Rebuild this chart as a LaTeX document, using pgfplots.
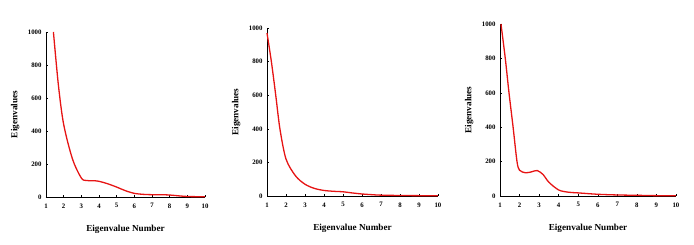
\documentclass[border=0pt]{standalone}
\usepackage{pgfplots}
\pgfplotsset{compat=1.18}
\usepackage{fontspec}
\setmainfont{Liberation Serif}
\definecolor{cred}{RGB}{230,20,20}
\pgfplotsset{
  eig/.style={
    scale only axis,
    anchor=south west,
    axis lines=left,
    axis line style={-,black,line width=0.6pt},
    xmin=1,xmax=10,ymin=0,ymax=1000,
    xtick={1,...,10},
    ytick={0,200,400,600,800,1000},
    tick align=inside,
    major tick length=2pt,
    tick style={black,line width=0.5pt},
    ticklabel style={font=\bfseries\fontsize{6.8}{8}\selectfont},
    xticklabel style={yshift=-3pt},
    yticklabel style={xshift=-1pt},
    /pgf/number format/assume math mode=true,
    scaled y ticks=false,
    yticklabel style={/pgf/number format/1000 sep={}},
    xlabel={Eigenvalue Number},
    ylabel={Eigenvalues},
    label style={font=\bfseries\fontsize{9.2}{11}\selectfont},
    xlabel style={yshift=-10pt},
    ylabel style={yshift=1.5pt},
    clip=false,
  }
}
\begin{document}
\begin{tikzpicture}[x=1pt,y=1pt]
\useasboundingbox (0,0) rectangle (694,245);
\begin{axis}[eig, at={(46pt,48pt)}, width=159pt, height=165pt]
\addplot[cred, line width=1.3pt, smooth, tension=0.5] coordinates {
(1.42,1000) (1.7,680) (2,440) (2.5,230) (3,115) (3.3,100) (3.9,97) (4.5,80) (5,60) (5.5,38) (6,22) (6.5,16) (7,14) (7.5,14) (8,12) (8.5,7) (9,3) (9.5,2) (10,2)
};
\end{axis}
\begin{axis}[eig, at={(267pt,49pt)}, width=171pt, height=168pt]
\addplot[cred, line width=1.3pt, smooth, tension=0.5] coordinates {
(1,970) (1.23,800) (1.46,600) (1.68,400) (2,220) (2.5,120) (3,70) (3.5,45) (4,33) (4.5,28) (5,25) (5.5,18) (6,12) (6.5,8) (7,5) (8,3) (9,2) (10,1)
};
\end{axis}
\begin{axis}[eig, at={(500pt,49pt)}, width=176pt, height=172pt]
\addplot[cred, line width=1.3pt, smooth, tension=0.5] coordinates {
(1.05,1000) (1.27,800) (1.46,600) (1.67,400) (1.87,200) (2,150) (2.3,135) (2.6,140) (2.9,148) (3.2,125) (3.5,80) (4,35) (4.5,22) (5,18) (6,10) (7,6) (8,4) (9,2) (10,1)
};
\end{axis}
\end{tikzpicture}
\end{document}
